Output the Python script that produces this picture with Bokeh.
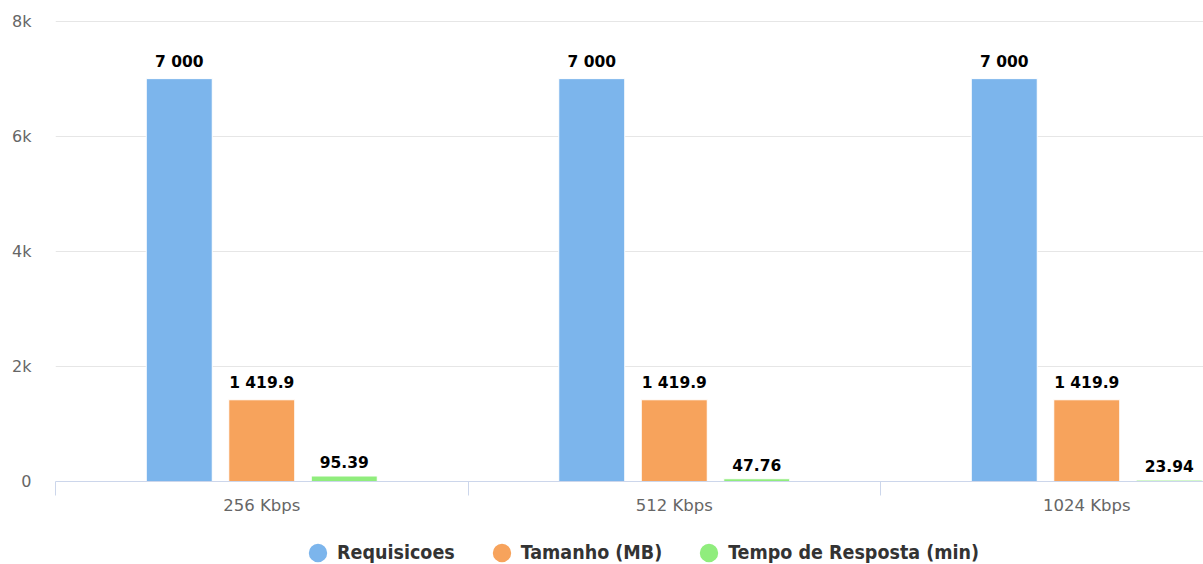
import numpy as np
from bokeh.plotting import figure
from bokeh.layouts import column
from bokeh.models import ColumnDataSource, Range1d, FixedTicker, Legend, LegendItem
from bokeh.core.properties import value
from bokeh.embed import file_html
from bokeh.resources import INLINE

categories = ["256 Kbps", "512 Kbps", "1024 Kbps"]
series_names = ["Requisicoes", "Tamanho (MB)", "Tempo de Resposta (min)"]
requisicoes = [7000, 7000, 7000]
tamanho = [1419.9, 1419.9, 1419.9]
tempo = [95.39, 47.76, 23.94]
colors = ["#7cb5ec", "#f7a35c", "#90ed7d"]
y_ticks = [0, 2000, 4000, 6000, 8000]
y_tick_labels = ["0", "2k", "4k", "6k", "8k"]


def fmt(v):
    s = f"{v:,.2f}".rstrip("0").rstrip(".")
    return s.replace(",", " ")


FONT = "DejaVu Sans"
n_cat = len(categories)
centers = np.arange(n_cat) + 0.5

p = figure(width=1203, height=530,
           x_range=Range1d(0, 2.783), y_range=Range1d(0, 8010),
           output_backend="svg", toolbar_location=None,
           min_border_left=55, min_border_right=0, min_border_top=20,
           min_border_bottom=49)
p.outline_line_color = None
p.background_fill_color = "white"
p.border_fill_color = "white"

# y axis
p.yaxis.ticker = FixedTicker(ticks=y_ticks, minor_ticks=[])
p.yaxis.major_label_overrides = {t: l for t, l in zip(y_ticks, y_tick_labels)}
p.yaxis.axis_line_color = None
p.yaxis.major_tick_line_color = None
p.yaxis.minor_tick_line_color = None
p.yaxis.major_tick_out = 0
p.yaxis.major_tick_in = 0
p.yaxis.major_label_standoff = 24
p.yaxis.major_label_text_font = FONT
p.yaxis.major_label_text_font_size = "16px"
p.yaxis.major_label_text_color = "#666666"

# x axis
p.xaxis.ticker = FixedTicker(ticks=list(centers), minor_ticks=list(range(n_cat + 1)))
p.xaxis.major_label_overrides = {float(c): l for c, l in zip(centers, categories)}
p.xaxis.axis_line_color = "#ccd6eb"
p.xaxis.major_tick_line_color = None
p.xaxis.major_tick_out = 0
p.xaxis.major_tick_in = 0
p.xaxis.minor_tick_line_color = "#ccd6eb"
p.xaxis.minor_tick_out = 14
p.xaxis.minor_tick_in = 0
p.xaxis.major_label_standoff = 0
p.xaxis.major_label_text_font = FONT
p.xaxis.major_label_text_font_size = "16.5px"
p.xaxis.major_label_text_color = "#666666"

p.xgrid.grid_line_color = None
p.ygrid.ticker = FixedTicker(ticks=y_ticks)
p.ygrid.grid_line_color = "#e6e6e6"

# legend strip
lg = figure(width=1203, height=34, x_range=Range1d(0, 1), y_range=Range1d(0, 1),
            output_backend="svg", toolbar_location=None,
            x_axis_type=None, y_axis_type=None,
            min_border_left=0, min_border_right=0, min_border_top=0,
            min_border_bottom=0)
lg.outline_line_color = None
lg.xgrid.grid_line_color = None
lg.ygrid.grid_line_color = None

offsets = [-0.2, 0.0, 0.2]
series = [requisicoes, tamanho, tempo]
items = []
for name, vals, col, off in zip(series_names, series, colors, offsets):
    src = ColumnDataSource(dict(x=centers + off, top=vals,
                                label=[fmt(v) for v in vals]))
    p.vbar(x="x", top="top", width=0.16, source=src,
           fill_color=col, line_color="white", line_width=1)
    p.text(x="x", y="top", text="label", source=src,
           text_align="center", text_baseline="bottom", y_offset=-8,
           text_font=value(FONT), text_font_style="bold",
           text_font_size="15.5px", text_color="#000000")
    leg = lg.ellipse(x=[np.nan], y=[np.nan], width=10, height=10,
                     width_units="screen", height_units="screen",
                     fill_color=col, line_color=None)
    items.append(LegendItem(label=name, renderers=[leg]))

legend = Legend(items=items, orientation="horizontal",
                location=(251, 0), glyph_width=23, glyph_height=23,
                label_standoff=8, spacing=35, padding=0, margin=0,
                border_line_color=None, background_fill_alpha=0,
                label_text_font="DejaVu Sans Condensed", label_text_font_style="bold",
                label_text_font_size="19.5px", label_text_color="#333333")
lg.add_layout(legend, "center")

layout = column(p, lg, spacing=0)
open("out.html", "w").write(file_html(layout, INLINE))
